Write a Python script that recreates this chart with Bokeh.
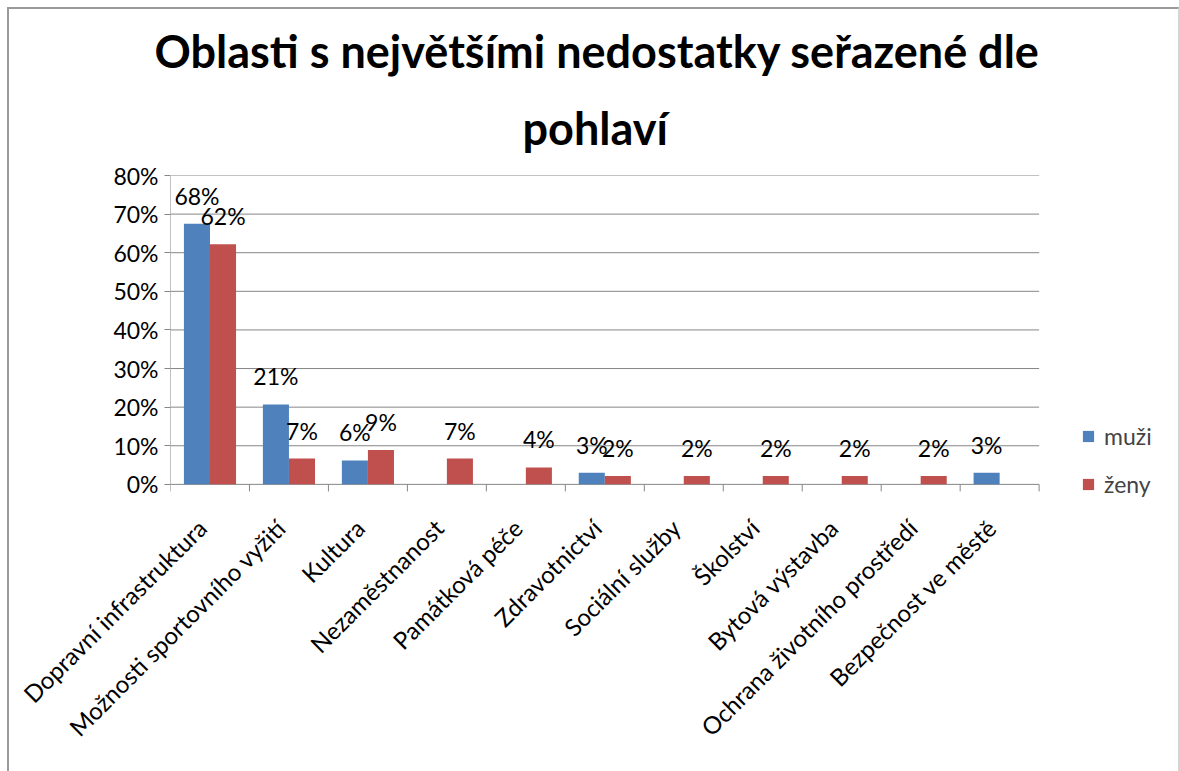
from math import pi
from bokeh.plotting import figure
from bokeh.models import (Range1d, FixedTicker, NumeralTickFormatter, ColumnDataSource,
                          Legend, LegendItem, Title)
from bokeh.core.properties import value
from bokeh.embed import file_html
from bokeh.resources import INLINE

categories = ["Dopravní infrastruktura", "Možnosti sportovního vyžití", "Kultura",
              "Nezaměstnanost", "Památková péče", "Zdravotnictví", "Sociální služby",
              "Školství", "Bytová výstavba", "Ochrana životního prostředí",
              "Bezpečnost ve městě"]
muzi = [0.675, 0.207, 0.062, 0.0, 0.0, 0.030, 0.0, 0.0, 0.0, 0.0, 0.030]
zeny = [0.622, 0.067, 0.089, 0.067, 0.044, 0.022, 0.022, 0.022, 0.022, 0.022, 0.0]
muzi_labels = ["68%", "21%", "6%", "", "", "3%", "", "", "", "", "3%"]
zeny_labels = ["62%", "7%", "9%", "7%", "4%", "2%", "2%", "2%", "2%", "2%", ""]
series_names = ["muži", "ženy"]
y_ticks = [0.0, 0.1, 0.2, 0.3, 0.4, 0.5, 0.6, 0.7, 0.8]
title_line1 = "Oblasti s největšími nedostatky  seřazené dle"
title_line2 = "pohlaví"

BLUE = "#4F81BD"
RED = "#C0504D"
GREY = "#868686"
FONT = "Lato"

# layout constants (pixels)
CAT_PX = 78.73            # width of one category
FRAME_W = 1000            # frame incl. legend area
PLOT_H = 307              # height from 0% to 80%
BELOW_PX = 21             # frame extends below the 0% line
Y_MAX = 0.8
PX_PER_UNIT = PLOT_H / Y_MAX

n = len(categories)
bar_w = 0.33
x_m = [i + 0.5 - bar_w / 2 for i in range(n)]
x_z = [i + 0.5 + bar_w / 2 for i in range(n)]

p = figure(width=1172, height=764, output_backend="svg", toolbar_location=None,
           x_range=Range1d(0, FRAME_W / CAT_PX),
           y_range=Range1d(-BELOW_PX / PX_PER_UNIT, Y_MAX),
           min_border_left=161, min_border_right=8, min_border_bottom=268,
           min_border_top=166)
p.outline_line_color = None
p.background_fill_color = "white"
p.border_fill_color = "white"
p.xgrid.visible = False
p.ygrid.visible = False

# gridlines and axis line over the category area only
p.segment(x0=[0] * len(y_ticks), x1=[n] * len(y_ticks), y0=y_ticks, y1=y_ticks,
          line_color=GREY, line_width=1)
p.segment(x0=[0], x1=[0], y0=[0], y1=[Y_MAX], line_color=GREY, line_width=1)
tick_len = 7 / PX_PER_UNIT
p.segment(x0=list(range(n + 1)), x1=list(range(n + 1)), y0=[0] * (n + 1),
          y1=[-tick_len] * (n + 1), line_color=GREY, line_width=1)

src_m = ColumnDataSource(dict(x=x_m, top=muzi))
src_z = ColumnDataSource(dict(x=x_z, top=zeny))
r_m = p.vbar(x="x", top="top", bottom=0, width=bar_w, source=src_m,
             fill_color=BLUE, line_color=None)
r_z = p.vbar(x="x", top="top", bottom=0, width=bar_w, source=src_z,
             fill_color=RED, line_color=None)

lm = [(x, v, t) for x, v, t in zip(x_m, muzi, muzi_labels) if t]
lz = [(x, v, t) for x, v, t in zip(x_z, zeny, zeny_labels) if t]
for data in (lm, lz):
    s = ColumnDataSource(dict(x=[d[0] for d in data], y=[d[1] for d in data],
                              t=[d[2] for d in data]))
    p.text(x="x", y="y", text="t", source=s, text_align="center",
           text_baseline="bottom", y_offset=-14, text_font=value(FONT),
           text_font_size="23px", text_color="black")

ya = p.yaxis[0]
ya.ticker = FixedTicker(ticks=y_ticks)
ya.formatter = NumeralTickFormatter(format="0%")
ya.axis_line_color = None
ya.major_tick_line_color = GREY
ya.major_tick_in = 0
ya.major_tick_out = 6
ya.minor_tick_line_color = None
ya.major_label_text_font = FONT
ya.major_label_text_font_size = "23px"
ya.major_label_text_color = "black"
ya.major_label_standoff = 6

xa = p.xaxis[0]
anchors = [i + 0.5 - 8 / CAT_PX for i in range(n)]
xa.ticker = FixedTicker(ticks=anchors)
xa.major_label_overrides = {a: lab for a, lab in zip(anchors, categories)}
xa.major_label_orientation = pi / 4
xa.axis_line_color = None
xa.major_tick_line_color = None
xa.minor_tick_line_color = None
xa.major_label_text_font = FONT
xa.major_label_text_font_size = "24px"
xa.major_label_text_color = "black"
xa.major_label_standoff = 12

# titles (first added is closest to plot)
p.add_layout(Title(text=title_line2, align="left", text_font=FONT,
                   text_font_size="45px", text_font_style="bold", text_color="black",
                   standoff=42, offset=352), "above")
p.add_layout(Title(text=title_line1, align="left", text_font=FONT,
                   text_font_size="45px", text_font_style="bold", text_color="black",
                   standoff=0, offset=-16), "above")

legend = Legend(items=[LegendItem(label=series_names[0], renderers=[r_m]),
                       LegendItem(label=series_names[1], renderers=[r_z])],
                location=(911, 7), glyph_width=14, glyph_height=14,
                spacing=20, padding=0, margin=0, label_standoff=9,
                label_text_font=FONT, label_text_font_size="23px",
                border_line_color=None, background_fill_alpha=0)
p.add_layout(legend)

p.styles = {"margin-left": "7px", "margin-top": "7px",
            "border-left": "2px solid #9a9a9a", "border-top": "2px solid #9a9a9a",
            "border-right": "1px solid #d4d4d4"}

open("out.html", "w").write(file_html(p, INLINE))
